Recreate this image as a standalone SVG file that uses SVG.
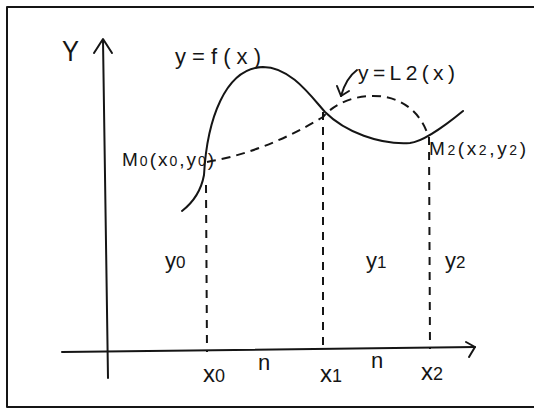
<svg xmlns="http://www.w3.org/2000/svg" width="534" height="410" viewBox="0 0 534 410">
<style>
.ln{fill:none;stroke:#151515;stroke-width:2;stroke-linecap:round;stroke-linejoin:round}
.dash{fill:none;stroke:#151515;stroke-width:2;stroke-dasharray:8 7}
.dc{fill:none;stroke:#151515;stroke-width:2;stroke-dasharray:9 6}
text{font-family:"Liberation Sans",Arial,sans-serif;fill:#151515}
.sm{font-size:14px}
</style>
<rect width="534" height="410" fill="#fff"/>
<g id="frame">
<path class="ln" d="M534,7 L7,7 L7,407 L534,407" stroke-width="2.5"/>
</g>
<g id="axes">
<path class="ln" d="M103,40 L108,378"/>
<path class="ln" d="M94,53 L103,39 L112,53"/>
<path class="ln" d="M62,352 L475,347"/>
<path class="ln" d="M466,342 L475,347 L469,357"/>
<text x="62" y="61" font-size="30" textLength="17" lengthAdjust="spacingAndGlyphs">Y</text>
</g>
<g id="connectors">
<path class="dash" d="M206,185 L207,352"/>
<path class="dash" d="M323,112 L323,350"/>
<path class="dash" d="M429,137 L430,349"/>
</g>
<g id="curve-f">
<path class="ln" d="M182,211 Q200,197 204,175 C207,120 225,68 263,67 C290,67 310,95 325,112 C345,132 380,145 410,143 C420,142 440,130 463,111"/>
<text x="175" y="64" font-size="22" textLength="86" lengthAdjust="spacing">y=f(x)</text>
</g>
<g id="curve-L2">
<path class="dc" d="M207,162 Q265,152 323,117 C345,90 410,82 428,135"/>
<path class="ln" d="M357,70 Q346,78 341,96"/>
<path class="ln" d="M337,86 L341,96 L349,91"/>
<text x="358" y="80" font-size="21" textLength="97" lengthAdjust="spacing">y=L2(x)</text>
</g>
<g id="M0">
<text x="122" y="166" font-size="19" letter-spacing="2">M<tspan class="sm">0</tspan>(x<tspan class="sm">0</tspan>,y<tspan class="sm">0</tspan>)</text>
</g>
<g id="M2">
<text x="429" y="155" font-size="19" letter-spacing="2.6">M<tspan class="sm">2</tspan>(x<tspan class="sm">2</tspan>,y<tspan class="sm">2</tspan>)</text>
</g>
<g id="ordinates">
<text x="165" y="268" font-size="22">y<tspan font-size="17">0</tspan></text>
<text x="366" y="268" font-size="22">y<tspan font-size="17">1</tspan></text>
<text x="445" y="268" font-size="22">y<tspan font-size="17">2</tspan></text>
</g>
<g id="abscissae">
<text x="203" y="382" font-size="24">x<tspan font-size="18">0</tspan></text>
<text x="320" y="382" font-size="24">x<tspan font-size="18">1</tspan></text>
<text x="421" y="380" font-size="24">x<tspan font-size="18">2</tspan></text>
<text x="258" y="370" font-size="22">n</text>
<text x="371" y="368" font-size="22">n</text>
</g>
</svg>
